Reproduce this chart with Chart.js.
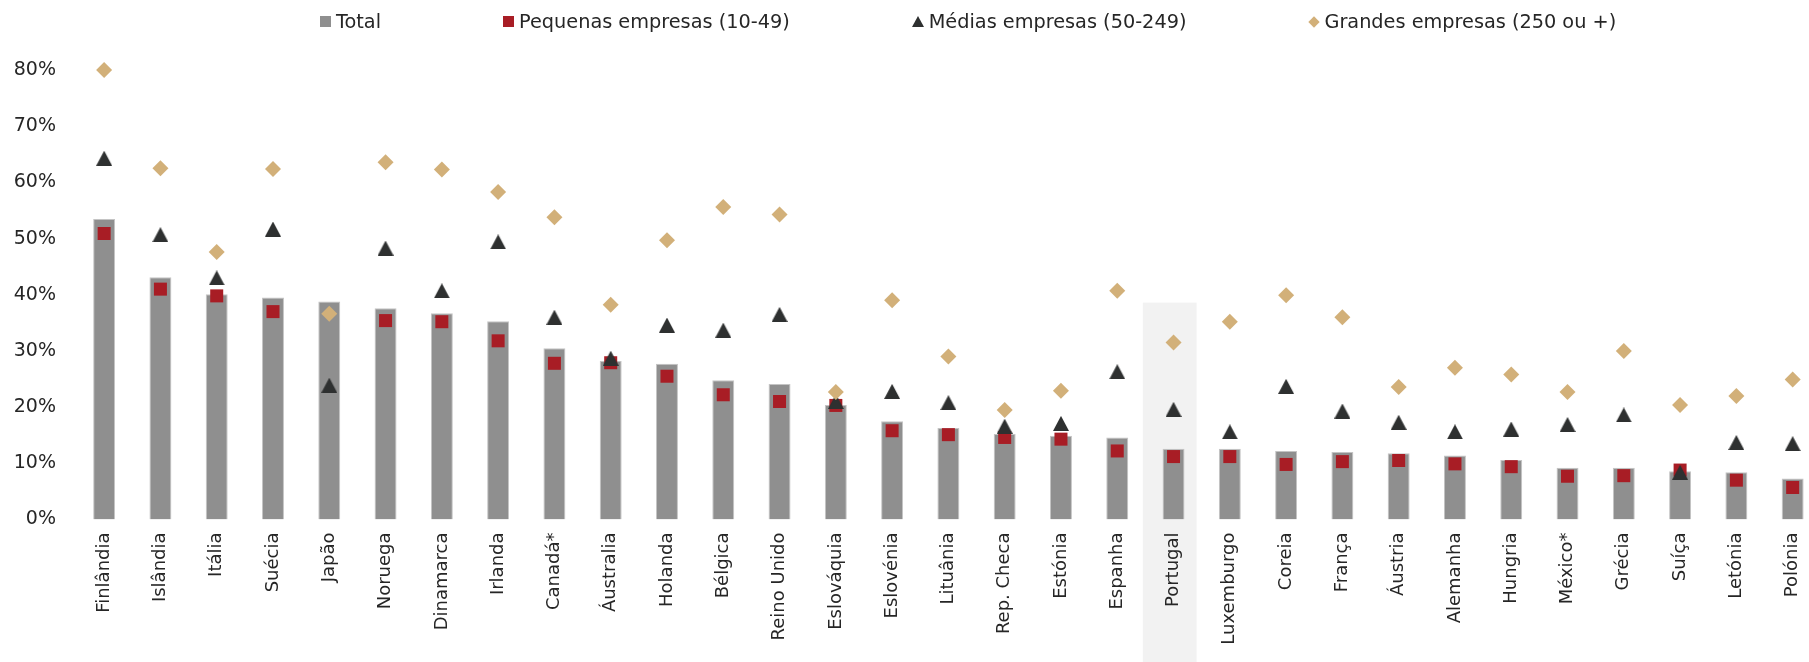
<!DOCTYPE html>
<html lang="pt">
<head>
<meta charset="utf-8">
<title>Empresas por dimensão</title>
<script src="https://cdn.jsdelivr.net/npm/chart.js@4.4.1/dist/chart.umd.min.js"></script>
<style>
  html, body { margin: 0; padding: 0; background: #fff; overflow: hidden; }
  #wrap { position: relative; width: 1830px; height: 662px; }
  #legend {
    position: absolute; top: 10px; left: 320px; z-index: 2;
    display: flex; gap: 122px;
    font: 19.3px "DejaVu Sans", Verdana, sans-serif; line-height: 23px; color: #262626;
  }
  .item { display: flex; align-items: center; gap: 5px; white-space: nowrap; }
  .sq { width: 11px; height: 11px; }
  .tri { width: 0; height: 0; border-left: 6px solid transparent; border-right: 6px solid transparent; border-bottom: 11px solid #2e3030; }
  .dia { width: 8px; height: 8px; margin: 0 1.5px; background: #d2b079; transform: rotate(45deg); }
</style>
</head>
<body>
<div id="wrap">
  <div id="legend">
    <div class="item"><span class="sq" style="background:#8f8f8f"></span>Total</div>
    <div class="item"><span class="sq" style="background:#a81d25"></span>Pequenas empresas (10-49)</div>
    <div class="item"><span class="tri"></span>Médias empresas (50-249)</div>
    <div class="item"><span class="dia"></span>Grandes empresas (250 ou +)</div>
  </div>
  <canvas id="chart"></canvas>
</div>
<script>
const CATEGORIES = [
  "Finlândia", "Islândia", "Itália", "Suécia", "Japão", "Noruega", "Dinamarca",
  "Irlanda", "Canadá*", "Áustralia", "Holanda", "Bélgica", "Reino Unido",
  "Eslováquia", "Eslovénia", "Lituânia", "Rep. Checa", "Estónia", "Espanha",
  "Portugal", "Luxemburgo", "Coreia", "França", "Áustria", "Alemanha", "Hungria",
  "México*", "Grécia", "Suíça", "Letónia", "Polónia",
];

// % de empresas, por dimensão
const TOTAL = [
  53.5, 43.1, 40.1, 39.5, 38.8, 37.6, 36.7, 35.3, 30.5, 28.2, 27.7, 24.8, 24.1,
  20.4, 17.5, 16.3, 15.2, 14.9, 14.6, 12.6, 12.6, 12.2, 12.0, 11.8, 11.4, 10.6,
  9.2, 9.2, 8.6, 8.4, 7.3,
];
const SMALL = [
  50.9, 41.0, 39.8, 37.0, null, 35.4, 35.2, 31.8, 27.8, 27.9, 25.5, 22.2, 21.0,
  20.3, 15.8, 15.1, 14.6, 14.3, 12.2, 11.2, 11.2, 9.8, 10.3, 10.5, 9.9, 9.4,
  7.7, 7.8, 8.8, 7.0, 5.7,
];
const MEDIUM = [
  64.3, 50.7, 43.0, 51.7, 23.9, 48.3, 40.7, 49.4, 36.0, 28.7, 34.6, 33.7, 36.5,
  21.0, 22.8, 20.8, 16.6, 17.1, 26.3, 19.6, 15.6, 23.7, 19.3, 17.3, 15.6, 16.1,
  16.9, 18.6, 8.4, 13.7, 13.5,
];
const LARGE = [
  80.0, 62.5, 47.6, 62.4, 36.6, 63.6, 62.3, 58.3, 53.8, 38.2, 49.7, 55.6, 54.3,
  22.7, 39.0, 29.0, 19.5, 22.9, 40.7, 31.5, 35.2, 39.9, 36.0, 23.6, 27.0, 25.8,
  22.7, 30.0, 20.4, 22.0, 24.9,
];

const Y_MIN = 0;
const Y_MAX = 80;
const Y_STEP = 10;

// Portugal em destaque
const HIGHLIGHT_INDEX = 19;
const HIGHLIGHT_TOP = 38.6;

const FONT = "'DejaVu Sans', Verdana, sans-serif";
const TEXT_COLOR = "#262626";

function triangleMark(w, h, color) {
  const c = document.createElement("canvas");
  c.width = w;
  c.height = h;
  const g = c.getContext("2d");
  g.fillStyle = color;
  g.beginPath();
  g.moveTo(w / 2, 0);
  g.lineTo(w, h);
  g.lineTo(0, h);
  g.closePath();
  g.fill();
  return c;
}

// grey band behind the highlighted country, down to the bottom of the canvas
const highlightBand = {
  id: "highlightBand",
  beforeDraw(chart) {
    const x = chart.scales.x;
    const y = chart.scales.y;
    const cw = (x.right - x.left) / CATEGORIES.length;
    const cx = x.getPixelForValue(HIGHLIGHT_INDEX);
    const top = y.getPixelForValue(HIGHLIGHT_TOP);
    const ctx = chart.ctx;
    ctx.save();
    ctx.fillStyle = "#f2f2f2";
    ctx.fillRect(cx - 0.545 * cw, top, 0.955 * cw, chart.height - top);
    ctx.restore();
  },
};

function pointSeries(label, data, style, radius, color, order) {
  return {
    type: "line",
    label,
    data,
    showLine: false,
    pointStyle: style,
    pointRadius: radius,
    pointHoverRadius: radius,
    pointBackgroundColor: color,
    pointBorderWidth: 0,
    order,
    clip: false,
  };
}

new Chart(document.getElementById("chart"), {
  type: "bar",
  data: {
    labels: CATEGORIES,
    datasets: [
      {
        type: "bar",
        label: "Total",
        data: TOTAL,
        backgroundColor: "#8f8f8f",
        borderColor: "#c4c4c4",
        borderWidth: 1,
        borderSkipped: "bottom",
        barPercentage: 0.39,
        categoryPercentage: 1,
        order: 4,
      },
      pointSeries("Pequenas empresas (10-49)", SMALL, "rect", 9.2, "#a81d25", 3),
      pointSeries("Médias empresas (50-249)", MEDIUM, triangleMark(16, 15, "#2e3030"), 8, "#2e3030", 2),
      pointSeries("Grandes empresas (250 ou +)", LARGE, "rectRot", 8, "#d2b079", 1),
    ],
  },
  options: {
    responsive: true,
    maintainAspectRatio: false,
    animation: false,
    layout: { padding: { top: 70, right: 5, bottom: 0, left: 0 } },
    plugins: {
      legend: { display: false },
      tooltip: { enabled: false },
    },
    scales: {
      x: {
        grid: { display: false, drawTicks: false },
        border: { display: false },
        ticks: {
          autoSkip: false,
          minRotation: 90,
          maxRotation: 90,
          padding: 13,
          color: TEXT_COLOR,
          font: { family: FONT, size: 18 },
        },
        afterFit(s) { s.height = 142.5; },
      },
      y: {
        min: Y_MIN,
        max: Y_MAX,
        grid: { display: false, drawTicks: false },
        border: { display: false },
        ticks: {
          stepSize: Y_STEP,
          padding: 20,
          color: TEXT_COLOR,
          font: { family: FONT, size: 19 },
          callback: (v) => v + "%",
        },
        afterFit(s) { s.width = 76; },
      },
    },
  },
  plugins: [highlightBand],
});
</script>
</body>
</html>
